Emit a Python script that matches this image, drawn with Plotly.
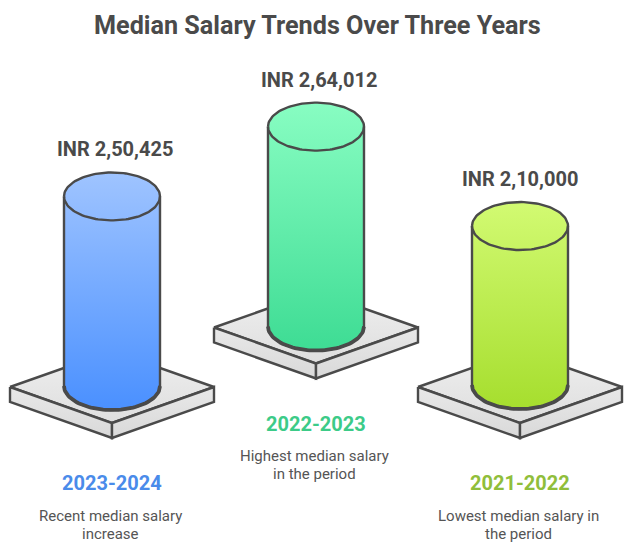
import numpy as np
import plotly.graph_objects as go

# datos
periodos = ["2023-2024", "2022-2023", "2021-2022"]
salarios = [250425, 264012, 210000]
etiquetas_salario = ["INR 2,50,425", "INR 2,64,012", "INR 2,10,000"]
descripciones = [
    ["Recent median salary", "increase"],
    ["Highest median salary", "in the period"],
    ["Lowest median salary in", "the period"],
]

# estilo y posicion de cada columna
centros_x = [112, 316, 520]
bases_y = [386, 326.5, 385]
plataformas_y = [387, 327.5, 387]
ajuste_etiqueta_x = [3, 3, 0]
colores_arriba = ["#9FC4FF", "#88FDC2", "#D2FA72"]
colores_abajo = ["#4A90FF", "#3EDC94", "#A6DE2E"]
colores_periodo = ["#4A8BEA", "#3CCB88", "#90BE3B"]

GRIS = "#4a4a4a"
PX_POR_INR = 0.000757  # altura del cilindro en pixeles por rupia
RX, RY = 48, 24
PLAT_W, PLAT_H, PLAT_G = 102, 36, 15

fig = go.Figure()


def poligono(xs, ys, arriba, abajo):
    # el eje y esta invertido, asi que el gradiente va de abajo hacia arriba
    fig.add_trace(go.Scatter(
        x=xs, y=ys, mode="lines", fill="toself",
        line=dict(color=GRIS, width=2.4), hoverinfo="skip", showlegend=False,
        fillgradient=dict(type="vertical", colorscale=[[0, abajo], [1, arriba]]),
    ))


def linea(xs, ys, ancho):
    fig.add_trace(go.Scatter(
        x=xs, y=ys, mode="lines", line=dict(color=GRIS, width=ancho),
        hoverinfo="skip", showlegend=False,
    ))


def texto(x, y, contenido, size, color):
    fig.add_annotation(x=x, y=y, text=contenido, showarrow=False,
                       font=dict(family="Roboto", size=size, color=color))


for i in range(len(salarios)):
    cx, base, py = centros_x[i], bases_y[i], plataformas_y[i]
    tope = base - salarios[i] * PX_POR_INR

    # plataforma
    poligono([cx - PLAT_W, cx, cx + PLAT_W, cx, cx - PLAT_W],
             [py, py - PLAT_H, py, py + PLAT_H, py], "#EFEFEF", "#DEDEDE")
    poligono([cx - PLAT_W, cx, cx, cx - PLAT_W, cx - PLAT_W],
             [py, py + PLAT_H, py + PLAT_H + PLAT_G, py + PLAT_G, py], "#E8E8E8", "#D9D9D9")
    poligono([cx, cx + PLAT_W, cx + PLAT_W, cx, cx],
             [py + PLAT_H, py, py + PLAT_G, py + PLAT_H + PLAT_G, py + PLAT_H], "#E8E8E8", "#D9D9D9")

    # cilindro: arco superior de izq. a der. y luego arco inferior de der. a izq.
    t = np.linspace(0, np.pi, 60)
    arco_x = cx + RX * np.cos(t)
    arco_y = RY * np.sin(t)
    xs = np.concatenate([arco_x[::-1], arco_x, [arco_x[-1]]])
    ys = np.concatenate([tope - arco_y[::-1], base + arco_y, [tope]])
    poligono(xs, ys, colores_arriba[i], colores_abajo[i])
    linea(arco_x, tope + arco_y, 2.4)
    linea(arco_x, base + arco_y, 3.8)

    # textos
    texto(cx + ajuste_etiqueta_x[i], tope - 47, f"<b>{etiquetas_salario[i]}</b>", 20, GRIS)
    texto(cx, py + 96, f"<b>{periodos[i]}</b>", 20, colores_periodo[i])
    for j, renglon in enumerate(descripciones[i]):
        texto(cx - 1.5, py + 128.5 + 18 * j, renglon, 15, "#555555")

texto(317, 25, "<b>Median Salary Trends Over Three Years</b>", 25.2, GRIS)

fig.update_layout(
    width=638, height=549, margin=dict(l=0, r=0, t=0, b=0),
    paper_bgcolor="white", plot_bgcolor="white", showlegend=False,
    xaxis=dict(range=[0, 638], visible=False, fixedrange=True),
    yaxis=dict(range=[549, 0], visible=False, fixedrange=True),
)

fig.write_html("out.html", config={"displayModeBar": False},
               post_script="document.body.style.margin='0';")
